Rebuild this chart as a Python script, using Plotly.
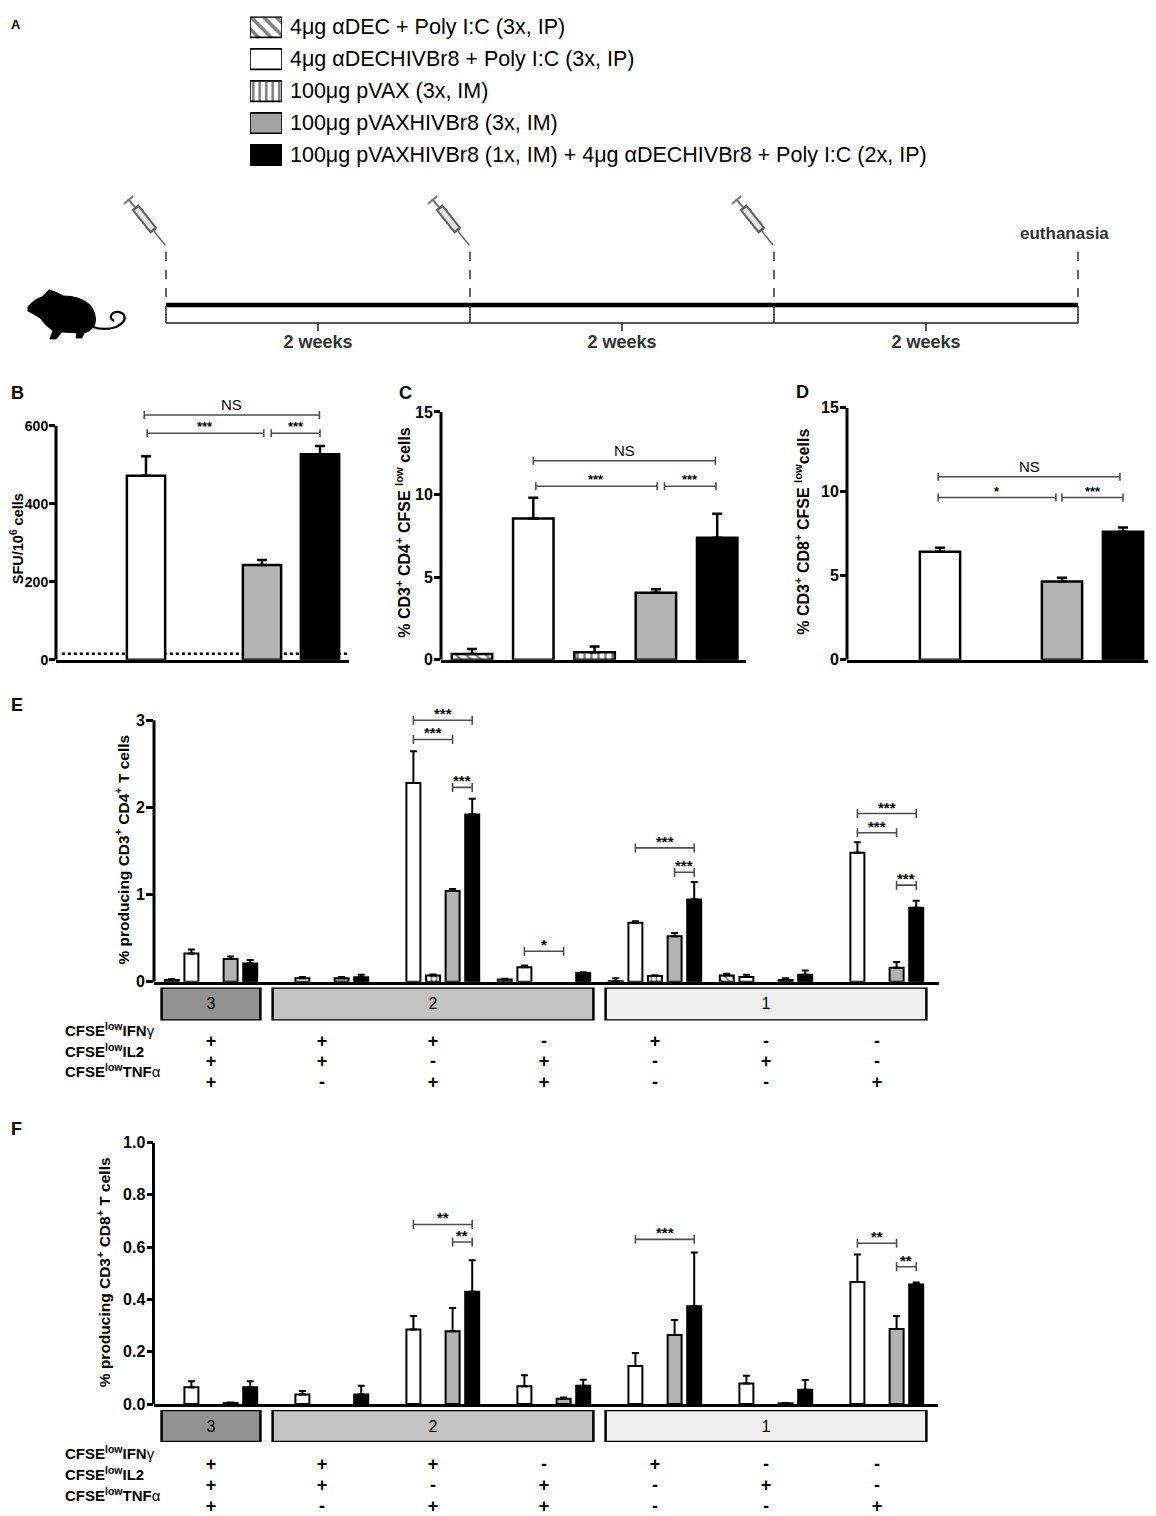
import plotly.graph_objects as go

# reference canvas is 1156x1516; the photographed page adds an offset/vertical squeeze,
# so reference pixels are mapped onto a 1140x1516 figure
W, H = 1156, 1516
FW, FH = 1140, 1516
OX, OY = 8, 16
SY = 1516 / 1532
FONT = "Liberation Sans, Arial, Helvetica, sans-serif"

# ---- treatment groups (legend order = bar order inside each cluster)
treatments = [
    "4μg αDEC + Poly I:C (3x, IP)",
    "4μg αDECHIVBr8 + Poly I:C (3x, IP)",
    "100μg pVAX (3x, IM)",
    "100μg pVAXHIVBr8 (3x, IM)",
    "100μg pVAXHIVBr8 (1x, IM) + 4μg αDECHIVBr8 + Poly I:C (2x, IP)",
]
fills = ["white", "white", "white", "#b3b3b3", "black"]
patterns = ["\\", "", "|", "", ""]

# ---- A: immunisation schedule (weeks)
injection_weeks = [0, 2, 4]
end_week = 6
interval_mid = [1, 3, 5]
interval_labels = ["2 weeks", "2 weeks", "2 weeks"]

# ---- B: IFN-g ELISpot
sfu_mean = [None, 472, None, 243, 527]
sfu_sem = [0, 50, 0, 13, 21]
sfu_cutoff = 15
sig_b = [(1.02, 3.03, 581, "***"), (3.16, 4.0, 581, "***"), (0.97, 3.99, 628, "NS")]

# ---- C: CD4 proliferation
cd4_prolif = [0.35, 8.55, 0.45, 4.05, 7.38]
cd4_prolif_sem = [0.30, 1.25, 0.35, 0.22, 1.45]
sig_c = [(1.04, 3.02, 10.5, "***"), (3.14, 3.98, 10.5, "***"), (1.0, 3.97, 12.04, "NS")]

# ---- D: CD8 proliferation
cd8_prolif = [None, 6.43, None, 4.66, 7.62]
cd8_prolif_sem = [0, 0.24, 0, 0.22, 0.26]
sig_d = [(0.97, 2.9, 9.66, "*"), (3.0, 4.0, 9.66, "***"), (0.97, 3.95, 10.9, "NS")]

# ---- E/F: cytokine combinations
ifng = ["+", "+", "+", "-", "+", "-", "-"]
il2 = ["+", "+", "-", "+", "-", "+", "-"]
tnfa = ["+", "-", "+", "+", "-", "-", "+"]
row_labels = ["<b>CFSE<sup>low</sup>IFN</b>γ", "<b>CFSE<sup>low</sup>IL2</b>", "<b>CFSE<sup>low</sup>TNF</b>α"]
func_levels = ["3", "2", "1"]
func_groups = [[0], [1, 2, 3], [4, 5, 6]]
func_colors = ["#939393", "#c3c3c3", "#eeeeee"]

# E: CD4
cd4_adec = [0.02, None, None, 0.025, 0.005, 0.07, None]
cd4_adec_sem = [0.01, 0, 0, 0.01, 0.035, 0.02, 0]
cd4_adechiv = [0.325, 0.04, 2.28, 0.165, 0.677, 0.053, 1.48]
cd4_adechiv_sem = [0.045, 0.015, 0.365, 0.02, 0.018, 0.027, 0.12]
cd4_pvax = [None, None, 0.07, None, 0.065, None, None]
cd4_pvax_sem = [0, 0, 0.012, 0, 0.01, 0, 0]
cd4_pvaxhiv = [0.26, 0.04, 1.04, None, 0.523, 0.02, 0.16]
cd4_pvaxhiv_sem = [0.03, 0.015, 0.025, 0, 0.035, 0.02, 0.065]
cd4_prime = [0.21, 0.05, 1.92, 0.10, 0.944, 0.08, 0.85]
cd4_prime_sem = [0.04, 0.03, 0.18, 0.01, 0.2, 0.05, 0.08]
sig_e = [(2, 1, 4, 3.0, "***"), (2, 1, 3, 2.78, "***"), (2, 3, 4, 2.23, "***"),
         (3, 1, 3, 0.35, "*"), (4, 1, 4, 1.536, "***"), (4, 3, 4, 1.257, "***"),
         (6, 1, 4, 1.93, "***"), (6, 1, 3, 1.71, "***"), (6, 3, 4, 1.108, "***")]

# F: CD8
cd8_adec = [None] * 7
cd8_adec_sem = [0] * 7
cd8_adechiv = [0.064, 0.037, 0.285, 0.068, 0.146, 0.079, 0.467]
cd8_adechiv_sem = [0.023, 0.013, 0.052, 0.042, 0.049, 0.029, 0.105]
cd8_pvax = [None] * 7
cd8_pvax_sem = [0] * 7
cd8_pvaxhiv = [0.004, None, 0.279, 0.02, 0.264, 0.003, 0.287]
cd8_pvaxhiv_sem = [0.002, 0, 0.088, 0.005, 0.058, 0.001, 0.05]
cd8_prime = [0.064, 0.037, 0.43, 0.07, 0.374, 0.055, 0.457]
cd8_prime_sem = [0.023, 0.033, 0.12, 0.023, 0.206, 0.037, 0.008]
sig_f = [(2, 1, 4, 0.687, "**"), (2, 3, 4, 0.62, "**"), (4, 1, 4, 0.63, "***"),
         (6, 1, 3, 0.615, "**"), (6, 3, 4, 0.525, "**")]


# reference pixel -> paper
def px(x):
    return (x - OX) / FW


def py(y):
    return 1 - (y / SY - OY) / FH


def aid(n):
    return ("x" if n == 1 else f"x{n}"), ("y" if n == 1 else f"y{n}")


def keys(n):
    return ("xaxis" if n == 1 else f"xaxis{n}"), ("yaxis" if n == 1 else f"yaxis{n}")


fig = go.Figure()


def set_axes(n, xpx, ypx, xr, yr, xline=False):
    xa, ya = aid(n)
    xk, yk = keys(n)
    fig.update_layout({
        xk: dict(domain=[max(0, px(xpx[0])), min(1, px(xpx[1]))], range=xr, anchor=ya,
                 showgrid=False, zeroline=False, showticklabels=False, ticks="",
                 showline=xline, linecolor="black", linewidth=3, fixedrange=True),
        yk: dict(domain=[max(0, py(ypx[1])), min(1, py(ypx[0]))], range=yr, anchor=xa,
                 showgrid=False, zeroline=False, showticklabels=False, ticks="",
                 showline=False, fixedrange=True),
    })


def value_panel(n, x0, x1, c0, step, base, ppu, yhi, ytop, tickvals, tsize, tlen, fmt=None):
    xr = [(x0 - c0) / step, (x1 - c0) / step]
    set_axes(n, (x0, x1), (base - yhi * ppu, base), xr, [0, yhi], xline=True)
    xa, ya = aid(n)
    yk = keys(n)[1]
    fig.update_layout({yk: dict(tickvals=tickvals, ticks="outside", ticklen=tlen, tickwidth=2.5,
                                tickcolor="black", showticklabels=True, tickformat=fmt,
                                ticklabelstandoff=-2,
                                tickfont=dict(family=FONT, size=tsize, color="black", weight="bold"))})
    fig.add_shape(type="line", xref=f"{xa} domain", yref=ya, x0=0, x1=0, y0=0, y1=ytop,
                  line=dict(color="black", width=3))


def bars(n, xs, ys, sem, ti, width, lw, capw, eth, psize):
    xa, ya = aid(n)
    fig.add_trace(go.Bar(
        x=xs, y=ys, width=width, xaxis=xa, yaxis=ya,
        marker=dict(color=fills[ti], line=dict(color="black", width=lw),
                    pattern=dict(shape=patterns[ti], fgcolor="black", bgcolor="white",
                                 size=psize, solidity=0.35)),
        error_y=dict(type="data", symmetric=False, array=[s or 0 for s in sem],
                     arrayminus=[0] * len(sem), color="black", thickness=eth, width=capw),
        cliponaxis=False, showlegend=False, hoverinfo="skip"))


def bracket(n, xa_, xb_, y, label, size, bold=True, cap=4.5, yshift=-3):
    xa, ya = aid(n)
    ln = dict(color="#4d4d4d", width=1.6)
    fig.add_shape(type="line", xref=xa, yref=ya, x0=xa_, x1=xb_, y0=y, y1=y, line=ln)
    for xx in (xa_, xb_):
        fig.add_shape(type="line", xref=xa, yref=ya, x0=xx, x1=xx, ysizemode="pixel",
                      yanchor=y, y0=-cap, y1=cap, line=ln)
    fig.add_annotation(xref=xa, yref=ya, x=(xa_ + xb_) / 2, y=y, text=label, showarrow=False,
                       yanchor="bottom", yshift=yshift,
                       font=dict(family=FONT, size=size, color="black",
                                 weight="bold" if bold else "normal"))


def text(x, y, s, size, bold=True, angle=0, xanchor="center", color="black"):
    fig.add_annotation(xref="paper", yref="paper", x=px(x), y=py(y), text=s, showarrow=False,
                       textangle=angle, xanchor=xanchor, yanchor="middle",
                       font=dict(family=FONT, size=size, color=color,
                                 weight="bold" if bold else "normal"))


# ---------------- A: legend patches
ROW0, ROWSTEP = 27, 32
set_axes(1, (250, 282), (16, 171), [0, 1],
         [(171 - ROW0) / ROWSTEP, (16 - ROW0) / ROWSTEP])
for i, name in enumerate(treatments):
    fig.add_trace(go.Bar(
        x=[1], y=[i], base=0, orientation="h", width=0.64, xaxis="x", yaxis="y",
        marker=dict(color=fills[i] if fills[i] != "#b3b3b3" else "#a3a3a3",
                    line=dict(color="black", width=1.6),
                    pattern=dict(shape=patterns[i], fgcolor="black", bgcolor="white",
                                 size=9 if patterns[i] == "\\" else 6.5, solidity=0.4)),
        cliponaxis=False, showlegend=False, hoverinfo="skip"))
    fig.add_annotation(xref="x", yref="y", x=1, y=i, text=name, showarrow=False, xanchor="left",
                       xshift=6, font=dict(family=FONT, size=21.5, color="black"))

# ---------------- A: timeline
T0, PPW = 166, 152
XL, XR = OX, OX + FW
set_axes(2, (XL, XR), (190, 360), [(XL - T0) / PPW, (XR - T0) / PPW], [360, 190])
tx, ty = aid(2)
fig.add_shape(type="line", xref=tx, yref=ty, x0=0, x1=end_week, y0=305, y1=305,
              line=dict(color="black", width=4.5))
fig.add_shape(type="line", xref=tx, yref=ty, x0=0, x1=end_week, y0=323, y1=323,
              line=dict(color="#222222", width=1.5))
for w in injection_weeks + [end_week]:
    fig.add_shape(type="line", xref=tx, yref=ty, x0=w, x1=w, y0=252, y1=316,
                  line=dict(color="#333333", width=1.5, dash="dash"))
    fig.add_shape(type="line", xref=tx, yref=ty, x0=w, x1=w, y0=314, y1=323,
                  line=dict(color="#222222", width=1.5))
for m in interval_mid:
    fig.add_shape(type="line", xref=tx, yref=ty, x0=m, x1=m, y0=323, y1=331,
                  line=dict(color="#222222", width=1.5))
fig.add_trace(go.Scatter(x=interval_mid, y=[344] * 3, text=interval_labels, mode="text",
                         textfont=dict(family=FONT, size=18, color="#333333", weight="bold"),
                         xaxis=tx, yaxis=ty, showlegend=False, hoverinfo="skip", cliponaxis=False))
fig.add_annotation(xref=tx, yref=ty, x=end_week, y=233, xshift=-14, text="euthanasia",
                   showarrow=False, font=dict(family=FONT, size=17, color="#333333", weight="bold"))


def pline(x0, y0, x1, y1, color, w):
    fig.add_shape(type="line", xref="paper", yref="paper", x0=px(x0), y0=py(y0),
                  x1=px(x1), y1=py(y1), line=dict(color=color, width=w))


for w in injection_weeks:
    X = T0 + PPW * w
    pline(X - 42, 204, X - 33, 196, "#7a7a7a", 2)
    pline(X - 38, 199, X - 31, 207, "#7a7a7a", 2.2)
    pline(X - 31, 207, X - 12, 231, "#5e5e5e", 9)
    pline(X - 29.5, 209, X - 13.5, 229, "#e6e6e6", 5)
    pline(X - 12, 231, X - 1, 245, "#666666", 1.4)


def ppath(cmds, close=True):
    out = []
    for c, pts in cmds:
        coords = " ".join(f"{px(pts[i]):.5f},{py(pts[i + 1]):.5f}" for i in range(0, len(pts), 2))
        out.append(f"{c}{coords}")
    return " ".join(out) + (" Z" if close else "")


mouse = ppath([("M", [28, 307]), ("Q", [33, 300, 42, 297]), ("L", [49, 290]), ("L", [55, 292]),
               ("Q", [60, 294, 63, 296]), ("Q", [80, 296, 90, 305]), ("Q", [97, 314, 95, 324]),
               ("Q", [92, 331, 84, 333]), ("L", [82, 338]), ("L", [76, 338]), ("L", [77, 333]),
               ("L", [62, 332]), ("L", [56, 339]), ("L", [50, 339]), ("L", [53, 331]),
               ("Q", [45, 325, 40, 318]), ("Q", [34, 314, 28, 311])])
fig.add_shape(type="path", xref="paper", yref="paper", path=mouse, fillcolor="black",
              line=dict(color="black", width=1))
tail = ppath([("M", [93, 327]), ("Q", [105, 331, 116, 327]), ("Q", [127, 322, 124, 315]),
              ("Q", [120, 310, 113, 313]), ("Q", [108, 318, 114, 321])], close=False)
fig.add_shape(type="path", xref="paper", yref="paper", path=tail, fillcolor="rgba(0,0,0,0)",
              line=dict(color="black", width=2.2))

# ---------------- B, C, D
slots = list(range(len(treatments)))
value_panel(3, 56, 349, 88, 58, 660, 0.39, 650, 600, [0, 200, 400, 600], 14, 6)
value_panel(4, 441, 746, 472, 61.3, 660, 16.53, 15, 15, [0, 5, 10, 15], 16, 6)
value_panel(5, 847, XR, 879, 61, 660, 16.8, 15, 15, [0, 5, 10, 15], 16, 6)

fig.add_shape(type="line", xref="x3 domain", yref="y3", x0=0.02, x1=1, y0=sfu_cutoff,
              y1=sfu_cutoff, layer="below", line=dict(color="black", width=2.5, dash="dot"))
for n, mean, sem in [(3, sfu_mean, sfu_sem), (4, cd4_prolif, cd4_prolif_sem),
                     (5, cd8_prolif, cd8_prolif_sem)]:
    for ti in slots:
        bars(n, [ti], [mean[ti]], [sem[ti]], ti, 0.66, 2.5, 5, 2.5, 7)
for n, sig in [(3, sig_b), (4, sig_c), (5, sig_d)]:
    for a, b, y, lab in sig:
        if lab == "NS":
            bracket(n, a, b, y, lab, 15, bold=False, cap=4, yshift=0)
        else:
            bracket(n, a, b, y, lab, 13, cap=4, yshift=-3)

# ---------------- E, F
groups = list(range(len(ifng)))
SLOT = 0.1766
value_panel(6, 154, 939, 211, 111, 982.3, 87.2, 3.12, 3, [0, 1, 2, 3], 16, 7)
value_panel(9, 153.5, 938, 211, 111, 1405, 261.7, 1.0, 1.0, [0, 0.2, 0.4, 0.6, 0.8, 1.0], 16, 6,
            ".1f")

e_series = [(cd4_adec, cd4_adec_sem), (cd4_adechiv, cd4_adechiv_sem), (cd4_pvax, cd4_pvax_sem),
            (cd4_pvaxhiv, cd4_pvaxhiv_sem), (cd4_prime, cd4_prime_sem)]
f_series = [(cd8_adec, cd8_adec_sem), (cd8_adechiv, cd8_adechiv_sem), (cd8_pvax, cd8_pvax_sem),
            (cd8_pvaxhiv, cd8_pvaxhiv_sem), (cd8_prime, cd8_prime_sem)]
for n, series in [(6, e_series), (9, f_series)]:
    for ti, (mean, sem) in enumerate(series):
        xs = [g + (ti - 2) * SLOT for g in groups]
        bars(n, xs, mean, sem, ti, 0.126, 2, 3.5, 2, 5)
for n, sig in [(6, sig_e), (9, sig_f)]:
    for g, sa, sb, y, lab in sig:
        bracket(n, g + (sa - 2) * SLOT, g + (sb - 2) * SLOT, y, lab, 15, cap=4.5, yshift=-4)


def func_strip(n, xr, ypx):
    set_axes(n, (154, 939), ypx, xr, [0, 1])
    xa, ya = aid(n)
    xs, ws = [], []
    for grp in func_groups:
        lo, hi = grp[0] - 0.445, grp[-1] + 0.445
        xs.append((lo + hi) / 2)
        ws.append(hi - lo)
    fig.add_trace(go.Bar(x=xs, y=[1] * len(xs), base=0, width=ws, text=func_levels,
                         textposition="inside", insidetextanchor="middle", textangle=0,
                         textfont=dict(family=FONT, size=16, color="black"),
                         marker=dict(color=func_colors, line=dict(color="black", width=2.5)),
                         xaxis=xa, yaxis=ya, cliponaxis=False, showlegend=False,
                         hoverinfo="skip"))


def combo_rows(n, xr, ypx, yr):
    set_axes(n, (154, 939), ypx, xr, yr)
    xa, ya = aid(n)
    for r, row in enumerate([ifng, il2, tnfa]):
        fig.add_trace(go.Scatter(x=groups, y=[r] * len(groups), text=row, mode="text",
                                 textfont=dict(family=FONT, size=18, color="black", weight="bold"),
                                 xaxis=xa, yaxis=ya, cliponaxis=False, showlegend=False,
                                 hoverinfo="skip"))
        fig.add_annotation(xref="paper", yref=ya, x=px(63), y=r - 0.62, text=row_labels[r],
                           showarrow=False, xanchor="left",
                           font=dict(family=FONT, size=15, color="black"))


xr_e = [(154 - 211) / 111, (939 - 211) / 111]
func_strip(7, xr_e, (988, 1021))
combo_rows(8, xr_e, (1028.6, 1096.3), [2.6, -0.7])
func_strip(10, xr_e, (1411, 1443))
combo_rows(11, xr_e, (1451.3, 1516), [2.38, -0.7])

# ---------------- titles and panel letters
text(16.5, 539, "<b>SFU/10<sup>6</sup> cells</b>", 14.5, angle=-90)
text(403, 533, "<b>% CD3<sup>+</sup> CD4<sup>+</sup> CFSE <sup>low</sup> cells</b>", 16, angle=-90)
text(802, 532, "<b>% CD3<sup>+</sup> CD8<sup>+</sup> CFSE <sup>low</sup>cells</b>", 16, angle=-90)
text(122, 850, "<b>% producing CD3<sup>+</sup> CD4<sup>+</sup> T cells</b>", 15.5, angle=-90)
text(104, 1273, "<b>% producing CD3<sup>+</sup> CD8<sup>+</sup> T cells</b>", 15.5, angle=-90)

text(9, 24, "A", 13, xanchor="left")
text(9, 393, "B", 18, xanchor="left")
text(397, 393, "C", 18, xanchor="left")
text(794, 392, "D", 18, xanchor="left")
text(9, 705, "E", 18, xanchor="left")
text(9, 1130, "F", 18, xanchor="left")

fig.update_layout(width=FW, height=FH, margin=dict(l=0, r=0, t=0, b=0), barmode="overlay",
                  paper_bgcolor="white", plot_bgcolor="white", showlegend=False,
                  font=dict(family=FONT, color="black"))
fig.write_html("out.html")
